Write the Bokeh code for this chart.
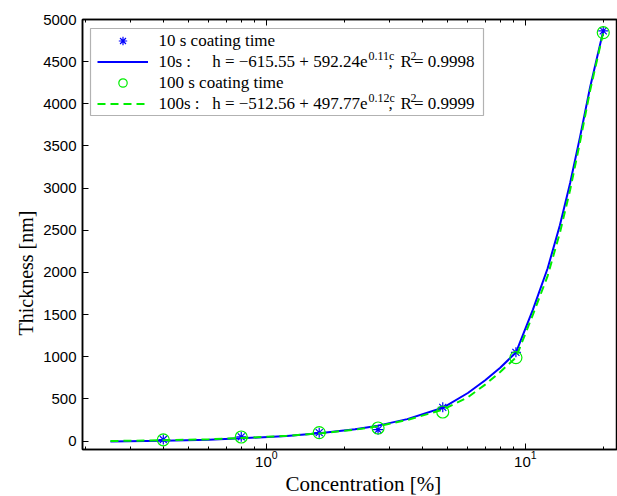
from bokeh.plotting import figure
from bokeh.models import (Range1d, FixedTicker, LogAxis, LogTicker, LogTickFormatter,
                          Legend, LegendItem, Label, BoxAnnotation, Title)
from bokeh.embed import file_html
from bokeh.resources import INLINE

# ---- data ----
conc = [0.4, 0.8, 1.6, 2.7, 4.8, 9.2, 20]
thick_10s = [18, 50, 100, 135, 400, 1052, 4865]
thick_100s = [15, 48, 100, 155, 345, 990, 4845]

conc_fit = [0.25, 0.4, 0.6, 0.8, 1.2, 1.6, 2.2, 2.7, 3.5, 4.8, 6, 7, 8, 9.2,
            10.7, 12.2, 13.6, 14.9, 16.3, 17.8, 20]
fit_10s = [-5, 4, 15, 32, 60, 92, 140, 183, 260, 395, 570, 722, 870, 1050,
           1560, 2050, 2560, 3060, 3620, 4200, 4865]
fit_100s = [0, 10, 22, 36, 62, 91, 135, 177, 250, 372, 520, 670, 820, 990,
            1500, 1960, 2470, 2980, 3560, 4160, 4845]

y_ticks = [0, 500, 1000, 1500, 2000, 2500, 3000, 3500, 4000, 4500, 5000]
x_major_ticks = [1, 10]
x_minor_ticks = [0.2, 0.3, 0.4, 0.5, 0.6, 0.7, 0.8, 0.9,
                 2, 3, 4, 5, 6, 7, 8, 9, 20]

legend_labels = ["10 s coating time", "10s :", "100 s coating time", "100s :"]
eq_main = ["h = \u2212615.55 + 592.24e", "h = \u2212512.56 + 497.77e"]
eq_exp = ["0.11c", "0.12c"]
eq_r2 = ["= 0.9998", "= 0.9999"]
x_title = "Concentration [%]"
y_title = "Thickness [nm]"

SERIF = "Liberation Serif"
SANS = "Liberation Sans"

p = figure(frame_width=535, frame_height=430,
           x_axis_type="log",
           x_range=Range1d(0.195, 22.7), y_range=Range1d(-100, 5000),
           output_backend="svg", toolbar_location=None,
           min_border_left=82, min_border_top=19, min_border_right=0,
           min_border_bottom=40)
p.background_fill_color = "white"
p.border_fill_color = "white"
p.grid.visible = False
p.outline_line_color = "black"
p.outline_line_width = 1.5

xt = FixedTicker(ticks=x_major_ticks, minor_ticks=x_minor_ticks)
p.xaxis.ticker = xt
p.xaxis.formatter = LogTickFormatter(ticker=LogTicker())
p.yaxis.ticker = FixedTicker(ticks=y_ticks)

for ax in [p.xaxis[0], p.yaxis[0]]:
    ax.axis_line_width = 1.5
    ax.axis_line_color = "black"
    ax.major_tick_in = 6
    ax.major_tick_out = 0
    ax.minor_tick_in = 3
    ax.minor_tick_out = 0
    ax.major_tick_line_color = "black"
    ax.minor_tick_line_color = "black"
    ax.major_label_text_font = SANS
    ax.major_label_text_font_size = "15px"
    ax.major_label_text_color = "black"

p.yaxis.minor_tick_line_color = None
p.yaxis.major_label_standoff = 6
p.xaxis.major_label_standoff = 1

top = LogAxis(ticker=xt, formatter=LogTickFormatter(ticker=LogTicker()),
              axis_line_width=1.5, major_tick_in=6, major_tick_out=0,
              minor_tick_in=3, minor_tick_out=0,
              major_label_text_font_size="1px", major_label_text_color=None,
              major_label_standoff=0)
p.add_layout(top, "above")

# axis titles, placed like the reference
p.add_layout(Title(text=x_title, align="left", offset=203, standoff=0,
                   text_font=SERIF, text_font_size="21px",
                   text_font_style="normal", text_color="black"), "below")
p.add_layout(Title(text=y_title, align="left", offset=114, standoff=8,
                   text_font=SERIF, text_font_size="20px",
                   text_font_style="normal", text_color="black"), "left")

# ---- data marks ----
r_star = p.scatter(conc, thick_10s, marker="asterisk", size=10,
                   line_color="#0000ff", line_width=1.2)
r_line10 = p.line(conc_fit, fit_10s, line_color="#0000ff", line_width=2)
r_circ = p.scatter(conc, thick_100s, marker="circle", size=12,
                   fill_color=None, line_color="#00ee00", line_width=1.2)
r_line100 = p.line(conc_fit, fit_100s, line_color="#00ee00", line_width=2,
                   line_dash="8 5")

# ---- legend ----
box = BoxAnnotation(left=8, right=401, top=421, bottom=334,
                    left_units="screen", right_units="screen",
                    top_units="screen", bottom_units="screen",
                    fill_color="white", fill_alpha=1.0,
                    line_color="black", line_width=1.2)
p.add_layout(box)

legend = Legend(items=[LegendItem(label=" ", renderers=[r_star]),
                       LegendItem(label=" ", renderers=[r_line10]),
                       LegendItem(label=" ", renderers=[r_circ]),
                       LegendItem(label=" ", renderers=[r_line100])],
                location=(15, 335), padding=4, spacing=0,
                label_height=21, glyph_height=21, glyph_width=51,
                label_standoff=7, label_width=10,
                label_text_font=SERIF, label_text_font_size="16px",
                border_line_color=None, background_fill_alpha=0)
p.add_layout(legend)

FS = "17px"
row_y = [409, 388, 367, 346]
for i in range(4):
    p.add_layout(Label(x=76, y=row_y[i], x_units="screen", y_units="screen",
                       text=legend_labels[i], text_align="left",
                       text_baseline="middle",
                       text_font=SERIF, text_font_size=FS, text_color="black"))

for i in range(2):
    y = row_y[2 * i + 1]
    p.add_layout(Label(x=285, y=y, x_units="screen", y_units="screen",
                       text=eq_main[i], text_align="right", text_baseline="middle",
                       text_font=SERIF, text_font_size=FS, text_color="black"))
    p.add_layout(Label(x=286, y=y + 6, x_units="screen", y_units="screen",
                       text=eq_exp[i], text_align="left", text_baseline="middle",
                       text_font=SERIF, text_font_size="12px", text_color="black"))
    p.add_layout(Label(x=306, y=y, x_units="screen", y_units="screen",
                       text=",", text_align="left", text_baseline="middle",
                       text_font=SERIF, text_font_size=FS, text_color="black"))
    p.add_layout(Label(x=318, y=y, x_units="screen", y_units="screen",
                       text="R", text_align="left", text_baseline="middle",
                       text_font=SERIF, text_font_size=FS, text_color="black"))
    p.add_layout(Label(x=328, y=y + 6, x_units="screen", y_units="screen",
                       text="2", text_align="left", text_baseline="middle",
                       text_font=SERIF, text_font_size="12px", text_color="black"))
    p.add_layout(Label(x=392, y=y, x_units="screen", y_units="screen",
                       text=eq_r2[i], text_align="right", text_baseline="middle",
                       text_font=SERIF, text_font_size=FS, text_color="black"))

open("out.html", "w").write(file_html(p, INLINE))
